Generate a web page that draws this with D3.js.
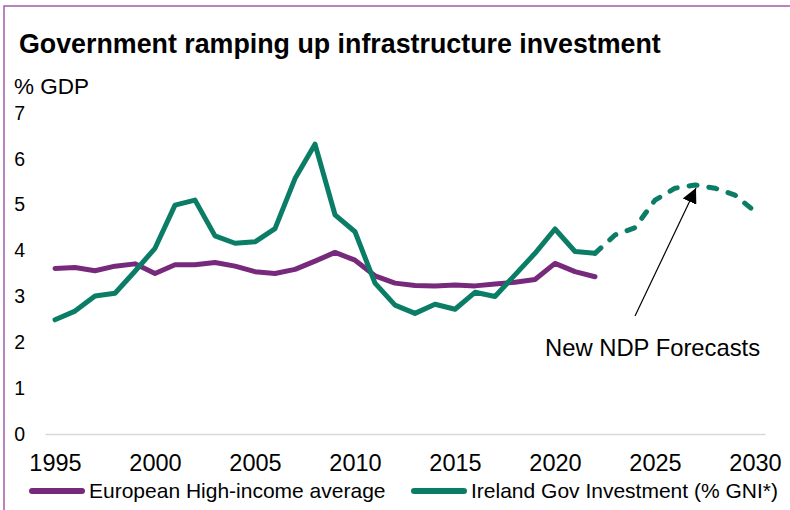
<!DOCTYPE html>
<html>
<head>
<meta charset="utf-8">
<script src="https://cdn.jsdelivr.net/npm/d3@7"></script>
<style>
  body { margin: 0; background: #fff; }
  text { font-family: "Liberation Sans", Arial, sans-serif; fill: #000; }
</style>
</head>
<body>
<div id="chart"></div>
<script>
// Data
var years = [1995, 1996, 1997, 1998, 1999, 2000, 2001, 2002, 2003, 2004,
             2005, 2006, 2007, 2008, 2009, 2010, 2011, 2012, 2013, 2014,
             2015, 2016, 2017, 2018, 2019, 2020, 2021, 2022];
var ireland = [2.49, 2.68, 3.01, 3.07, 3.55, 4.05, 4.99, 5.10, 4.32, 4.16,
               4.19, 4.48, 5.57, 6.32, 4.78, 4.41, 3.29, 2.81, 2.63, 2.83,
               2.72, 3.09, 3.00, 3.47, 3.94, 4.47, 3.98, 3.94];
var europe = [3.61, 3.63, 3.56, 3.66, 3.71, 3.50, 3.69, 3.69, 3.74, 3.66,
              3.54, 3.50, 3.59, 3.77, 3.96, 3.79, 3.45, 3.29, 3.24, 3.23,
              3.25, 3.23, 3.27, 3.31, 3.37, 3.72, 3.54, 3.43];
var forecastYears = [2022, 2023, 2024, 2025, 2026, 2027, 2028, 2029, 2030];
var forecast = [3.94, 4.34, 4.50, 5.10, 5.36, 5.43, 5.36, 5.21, 4.85];
var xTicks = [1995, 2000, 2005, 2010, 2015, 2020, 2025, 2030];
var yTicks = [0, 1, 2, 3, 4, 5, 6, 7];
var peakYear = 2027;

var svgWidth = 790;
var svgHeight = 510;
var green = "#0b7d66";
var purple = "#772a7c";

var svg = d3.select("#chart")
    .append("svg")
    .attr("width", svgWidth)
    .attr("height", svgHeight);

// frame (only left and top edge visible in the picture)
svg.append("rect")
    .attr("x", 4)
    .attr("y", 6)
    .attr("width", 800)
    .attr("height", 520)
    .attr("fill", "none")
    .attr("stroke", "#a45ba8")
    .attr("stroke-width", 1.5);

// scales
var x = d3.scaleLinear()
    .domain([1994.5, 2030.5])
    .range([45, 765]);

var y = d3.scaleLinear()
    .domain([0, 7])
    .range([434, 113]);

// title and unit label
svg.append("text")
    .attr("x", 19)
    .attr("y", 53)
    .style("font-size", "26.8px")
    .style("font-weight", "bold")
    .text("Government ramping up infrastructure investment");

svg.append("text")
    .attr("x", 14)
    .attr("y", 94)
    .style("font-size", "22.5px")
    .text("% GDP");

// axes
var leftAxis = d3.axisLeft(y)
    .tickValues(yTicks)
    .tickSize(0)
    .tickPadding(20)
    .tickFormat(d3.format("d"));

var yAxisG = svg.append("g")
    .attr("transform", "translate(45,0)")
    .call(leftAxis);
yAxisG.select(".domain").remove();
yAxisG.selectAll("text")
    .style("font-size", "19.5px")
    .attr("fill", "#000");

var bottomAxis = d3.axisBottom(x)
    .tickValues(xTicks)
    .tickSize(0)
    .tickSizeOuter(0)
    .tickPadding(20)
    .tickFormat(d3.format("d"));

var xAxisG = svg.append("g")
    .attr("transform", "translate(0," + y(0) + ")")
    .call(bottomAxis);
xAxisG.select(".domain")
    .attr("stroke", "#d9d9d9")
    .attr("stroke-width", 1.5);
xAxisG.selectAll("text")
    .style("font-size", "23.5px")
    .attr("fill", "#000");

// lines
var line = d3.line()
    .x(d => x(d[0]))
    .y(d => y(d[1]));

svg.append("path")
    .datum(d3.zip(years, europe))
    .attr("d", line)
    .attr("fill", "none")
    .attr("stroke", purple)
    .attr("stroke-width", 5)
    .attr("stroke-linejoin", "round")
    .attr("stroke-linecap", "round");

svg.append("path")
    .datum(d3.zip(years, ireland))
    .attr("d", line)
    .attr("fill", "none")
    .attr("stroke", green)
    .attr("stroke-width", 5)
    .attr("stroke-linejoin", "round")
    .attr("stroke-linecap", "round");

svg.append("path")
    .datum(d3.zip(forecastYears, forecast))
    .attr("d", line)
    .attr("fill", "none")
    .attr("stroke", green)
    .attr("stroke-width", 5)
    .attr("stroke-dasharray", "8,12")
    .attr("stroke-linejoin", "round")
    .attr("stroke-linecap", "round");

// annotation arrow pointing at the forecast peak
svg.append("defs").append("marker")
    .attr("id", "arrow")
    .attr("viewBox", "0 0 10 10")
    .attr("refX", 10)
    .attr("refY", 5)
    .attr("markerWidth", 15)
    .attr("markerHeight", 15)
    .attr("markerUnits", "userSpaceOnUse")
    .attr("orient", "auto")
    .append("path")
    .attr("d", "M0,0L10,5L0,10Z")
    .attr("fill", "#000");

var peakVal = forecast[forecastYears.indexOf(peakYear)];
var tipX = x(peakYear) + 1;
var tipY = y(peakVal) + 3;

svg.append("line")
    .attr("x1", tipX - 61)
    .attr("y1", tipY + 128)
    .attr("x2", tipX)
    .attr("y2", tipY)
    .attr("stroke", "#000")
    .attr("stroke-width", 1.2)
    .attr("marker-end", "url(#arrow)");

svg.append("text")
    .attr("x", 545)
    .attr("y", 356)
    .style("font-size", "23.8px")
    .text("New NDP Forecasts");

// legend
var legend = [
    { label: "European High-income average", color: purple, x: 30 },
    { label: "Ireland Gov Investment (% GNI*)", color: green, x: 412 }
];

var legendG = svg.selectAll(".legend")
    .data(legend)
    .enter()
    .append("g")
    .attr("class", "legend")
    .attr("transform", d => `translate(${d.x}, 491)`);

legendG.append("line")
    .attr("x1", 2)
    .attr("x2", 52)
    .attr("stroke", d => d.color)
    .attr("stroke-width", 6)
    .attr("stroke-linecap", "round");

legendG.append("text")
    .attr("x", 59)
    .attr("y", 7)
    .style("font-size", "21px")
    .text(d => d.label);
</script>
</body>
</html>
